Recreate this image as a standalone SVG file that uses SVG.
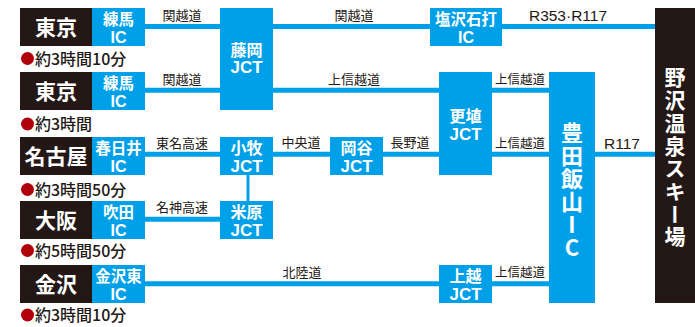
<svg xmlns="http://www.w3.org/2000/svg" width="695" height="327" viewBox="0 0 695 327">
<style>
.dark{fill:#231815}
.blue{fill:#00a0e9}
.wt{fill:#fff;font-family:"Liberation Sans","Noto Sans CJK JP",sans-serif;font-weight:bold;text-anchor:middle}
.city{font-family:"Noto Sans CJK JP",sans-serif;font-size:21px}
.kj{font-family:"Noto Sans CJK JP",sans-serif;font-size:15.5px}
.kj16{font-family:"Noto Sans CJK JP",sans-serif;font-size:16px}
.ic{font-family:"Liberation Sans",sans-serif;font-size:16px}
.jct{font-family:"Liberation Sans",sans-serif;font-size:17px}
.road{fill:#231815;font-family:"Noto Sans CJK JP",sans-serif;font-size:13px;text-anchor:middle}
.rn{fill:#231815;font-family:"Liberation Sans",sans-serif;font-size:15.5px;text-anchor:middle}
.time{fill:#231815;font-family:"Noto Sans CJK JP",sans-serif;font-size:16px;font-weight:500}
.dot{fill:#b0000b}
.vt{fill:#fff;font-family:"Noto Sans CJK JP",sans-serif;font-weight:bold;writing-mode:vertical-rl;text-orientation:upright}
.conn line{stroke:#00a0e9;stroke-width:5}
</style>
<g class="conn" id="connectors">
<line x1="145" y1="26.5" x2="220" y2="26.5"/>
<line x1="273" y1="26.5" x2="430" y2="26.5"/>
<line x1="502" y1="26.5" x2="655" y2="26.5"/>
<line x1="145" y1="90.3" x2="220" y2="90.3"/>
<line x1="273" y1="90.3" x2="439" y2="90.3"/>
<line x1="492" y1="90.3" x2="549" y2="90.3"/>
<line x1="145" y1="154.3" x2="220" y2="154.3"/>
<line x1="273" y1="154.3" x2="330" y2="154.3"/>
<line x1="383" y1="154.3" x2="439" y2="154.3"/>
<line x1="492" y1="154.3" x2="549" y2="154.3"/>
<line x1="595" y1="154.3" x2="655" y2="154.3"/>
<line x1="248" y1="175" x2="248" y2="201" style="stroke-width:3"/>
<line x1="145" y1="219.3" x2="220" y2="219.3"/>
<line x1="145" y1="283.7" x2="439" y2="283.7"/>
<line x1="492" y1="283.7" x2="549" y2="283.7"/>
</g>
<g id="road-labels">
<text class="road" x="182" y="20">関越道</text>
<text class="road" x="354" y="20">関越道</text>
<text class="rn" x="568" y="20.5">R353·R117</text>
<text class="road" x="182" y="84">関越道</text>
<text class="road" x="354" y="84">上信越道</text>
<text class="road" x="520" y="84" style="font-size:12.5px">上信越道</text>
<text class="road" x="182" y="148">東名高速</text>
<text class="road" x="301" y="147">中央道</text>
<text class="road" x="410" y="147">長野道</text>
<text class="road" x="520" y="148" style="font-size:12.5px">上信越道</text>
<text class="rn" x="622" y="148.5">R117</text>
<text class="road" x="182" y="212">名神高速</text>
<text class="road" x="302" y="277">北陸道</text>
<text class="road" x="520" y="277" style="font-size:12.5px">上信越道</text>
</g>
<g id="tokyo1">
<rect class="dark" x="20" y="8" width="72" height="38"/>
<text class="wt city" x="56" y="34.5">東京</text>
</g>
<g id="nerima1">
<rect class="blue" x="92" y="8" width="53" height="38"/>
<text class="wt"><tspan class="kj" x="118.5" y="25">練馬</tspan><tspan class="ic" x="118.5" y="43">IC</tspan></text>
</g>
<g id="time1"><circle class="dot" cx="27.5" cy="58.5" r="6.5"/><text class="time" x="35" y="64.5">約3時間10分</text></g>
<g id="tokyo2">
<rect class="dark" x="20" y="72" width="72" height="38"/>
<text class="wt city" x="56" y="98.5">東京</text>
</g>
<g id="nerima2">
<rect class="blue" x="92" y="72" width="53" height="38"/>
<text class="wt"><tspan class="kj" x="118.5" y="89">練馬</tspan><tspan class="ic" x="118.5" y="107">IC</tspan></text>
</g>
<g id="time2"><circle class="dot" cx="27.5" cy="124" r="6.5"/><text class="time" x="35" y="130">約3時間</text></g>
<g id="nagoya">
<rect class="dark" x="20" y="137" width="72" height="38"/>
<text class="wt city" x="56" y="163.5">名古屋</text>
</g>
<g id="kasugai">
<rect class="blue" x="92" y="137" width="53" height="38"/>
<text class="wt"><tspan class="kj" x="118.5" y="154">春日井</tspan><tspan class="ic" x="118.5" y="172">IC</tspan></text>
</g>
<g id="time3"><circle class="dot" cx="27.5" cy="189.5" r="6.5"/><text class="time" x="35" y="195.5">約3時間50分</text></g>
<g id="osaka">
<rect class="dark" x="20" y="201" width="72" height="38"/>
<text class="wt city" x="56" y="227.5">大阪</text>
</g>
<g id="suita">
<rect class="blue" x="92" y="201" width="53" height="38"/>
<text class="wt"><tspan class="kj" x="118.5" y="218">吹田</tspan><tspan class="ic" x="118.5" y="236">IC</tspan></text>
</g>
<g id="time4"><circle class="dot" cx="27.5" cy="250.5" r="6.5"/><text class="time" x="35" y="256.5">約5時間50分</text></g>
<g id="kanazawa">
<rect class="dark" x="20" y="265" width="72" height="38"/>
<text class="wt city" x="56" y="291.5">金沢</text>
</g>
<g id="kanazawa-higashi">
<rect class="blue" x="92" y="265" width="53" height="38"/>
<text class="wt"><tspan class="kj" x="118.5" y="282">金沢東</tspan><tspan class="ic" x="118.5" y="300">IC</tspan></text>
</g>
<g id="time5"><circle class="dot" cx="27.5" cy="315" r="6.5"/><text class="time" x="35" y="321">約3時間10分</text></g>
<g id="fujioka">
<rect class="blue" x="220" y="8" width="53" height="102"/>
<text class="wt"><tspan class="kj16" x="246.5" y="56">藤岡</tspan><tspan class="jct" x="246.5" y="73">JCT</tspan></text>
</g>
<g id="komaki">
<rect class="blue" x="220" y="137" width="53" height="38"/>
<text class="wt"><tspan class="kj16" x="246.5" y="154">小牧</tspan><tspan class="jct" x="246.5" y="172">JCT</tspan></text>
</g>
<g id="maibara">
<rect class="blue" x="220" y="201" width="53" height="38"/>
<text class="wt"><tspan class="kj16" x="246.5" y="218">米原</tspan><tspan class="jct" x="246.5" y="236">JCT</tspan></text>
</g>
<g id="okaya">
<rect class="blue" x="330" y="137" width="53" height="38"/>
<text class="wt"><tspan class="kj16" x="356.5" y="154">岡谷</tspan><tspan class="jct" x="356.5" y="172">JCT</tspan></text>
</g>
<g id="shiozawa">
<rect class="blue" x="430" y="8" width="72" height="38"/>
<text class="wt"><tspan class="kj" x="466" y="25">塩沢石打</tspan><tspan class="ic" x="466" y="43">IC</tspan></text>
</g>
<g id="koshoku">
<rect class="blue" x="439" y="72" width="53" height="103"/>
<text class="wt"><tspan class="kj16" x="465.5" y="122">更埴</tspan><tspan class="jct" x="465.5" y="140">JCT</tspan></text>
</g>
<g id="joetsu">
<rect class="blue" x="439" y="265" width="53" height="38"/>
<text class="wt"><tspan class="kj16" x="465.5" y="282">上越</tspan><tspan class="jct" x="465.5" y="300">JCT</tspan></text>
</g>
<g id="toyota-iiyama">
<rect class="blue" x="549" y="72" width="46" height="231"/>
<text class="vt" x="572" y="121.5" font-size="22" letter-spacing="1">豊田飯山IC</text>
</g>
<g id="nozawa">
<rect class="dark" x="655" y="8" width="40" height="295"/>
<text class="vt" x="675" y="67" font-size="21" letter-spacing="1.7">野沢温泉スキー場</text>
</g>
</svg>
